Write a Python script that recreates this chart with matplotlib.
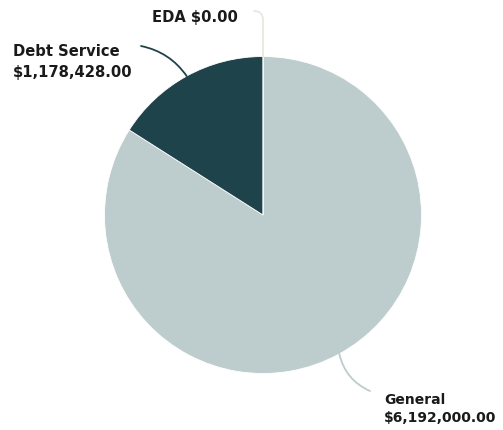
import matplotlib.pyplot as plt
from matplotlib.patches import FancyArrowPatch
import numpy as np

labels = ["General", "Debt Service", "EDA"]
values = [6192000.00, 1178428.00, 0.00]
colors = ["#bdcccd", "#1f434b", "#f1ede6"]
line_colors = ["#bdcccd", "#1f434b", "#ebe7e0"]

W, H = 503, 431
fig = plt.figure(figsize=(W / 100, H / 100), dpi=100)
ax = fig.add_axes([0, 0, 1, 1])

cx, cy, r = 263, H - 216, 158.5
wedges, _ = ax.pie(values, colors=colors, startangle=90, counterclock=False,
                   center=(cx, cy), radius=r, frame=True,
                   wedgeprops=dict(linewidth=0.6, edgecolor="white"))
ax.set_xlim(0, W)
ax.set_ylim(0, H)
ax.set_aspect("equal")
ax.axis("off")


def money(v):
    return "${:,.2f}".format(v)


# text anchor, font size, connector end and connector style for each slice
label_pos = {
    "General": (384, H - 409, 10.0, (370, H - 392), "arc3,rad=0.25"),
    "Debt Service": (13, H - 62, 10.6, (141, H - 47), "arc3,rad=0.2"),
    "EDA": (152, H - 17, 10.6, (255, H - 12), "angle,angleA=90,angleB=0,rad=9"),
}

for w, lab, val, lc in zip(wedges, labels, values, line_colors):
    ang = np.deg2rad((w.theta1 + w.theta2) / 2)
    px, py = cx + r * np.cos(ang), cy + r * np.sin(ang)
    tx, ty, fs, end, style = label_pos[lab]
    con = FancyArrowPatch((px, py), end, arrowstyle="-",
                          connectionstyle=style,
                          color=lc, lw=1.3, shrinkA=0, shrinkB=0)
    ax.add_patch(con)
    if lab == "EDA":
        txt = "%s %s" % (lab, money(val))
    else:
        txt = "%s\n%s" % (lab, money(val))
    ax.text(tx, ty, txt, ha="left", va="center", fontsize=fs, fontweight="bold",
            color="#1a1a1a", family="DejaVu Sans", linespacing=1.45)

fig.savefig("out.png", dpi=100)
